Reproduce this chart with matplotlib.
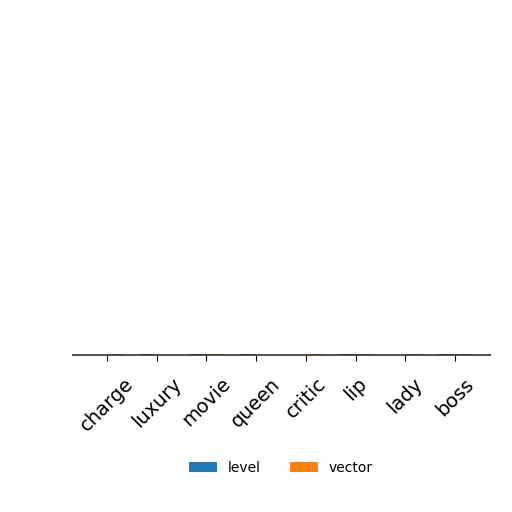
import numpy as np
import matplotlib.pyplot as plt

categories = ['charge', 'luxury', 'movie', 'queen', 'critic', 'lip', 'lady', 'boss']
level = [3, 5, 4, 6, 2, 5, 3, 7]
vector = [4, 2, 6, 3, 5, 4, 6, 5]

x = np.arange(len(categories))
w = 0.35

fig = plt.figure(figsize=(5.12, 5.12), dpi=100)
ax = fig.add_axes([72 / 512, (512 - 355) / 512, 418 / 512, 1.2 / 512])

ax.bar(x - w / 2, level, w, color='#1f77b4', label='level')
ax.bar(x + w / 2, vector, w, color='#ff7f0e', label='vector')

ax.set_xlim(-0.7, len(categories) - 0.3)
ax.set_ylim(0, 8)
ax.set_yticks([])
ax.set_xticks(x)
ax.set_xticklabels(categories, rotation=45, ha='center', fontsize=14)
ax.tick_params(axis='x', length=4, width=0.8, pad=10)
for s in ax.spines.values():
    s.set_linewidth(0.6)
    s.set_color('#333333')

ax.legend(loc='upper center', bbox_to_anchor=(0.5, -78), ncol=2, frameon=False,
          fontsize=10, handlelength=2.0, columnspacing=2.1)

fig.savefig('out.png', dpi=100)
